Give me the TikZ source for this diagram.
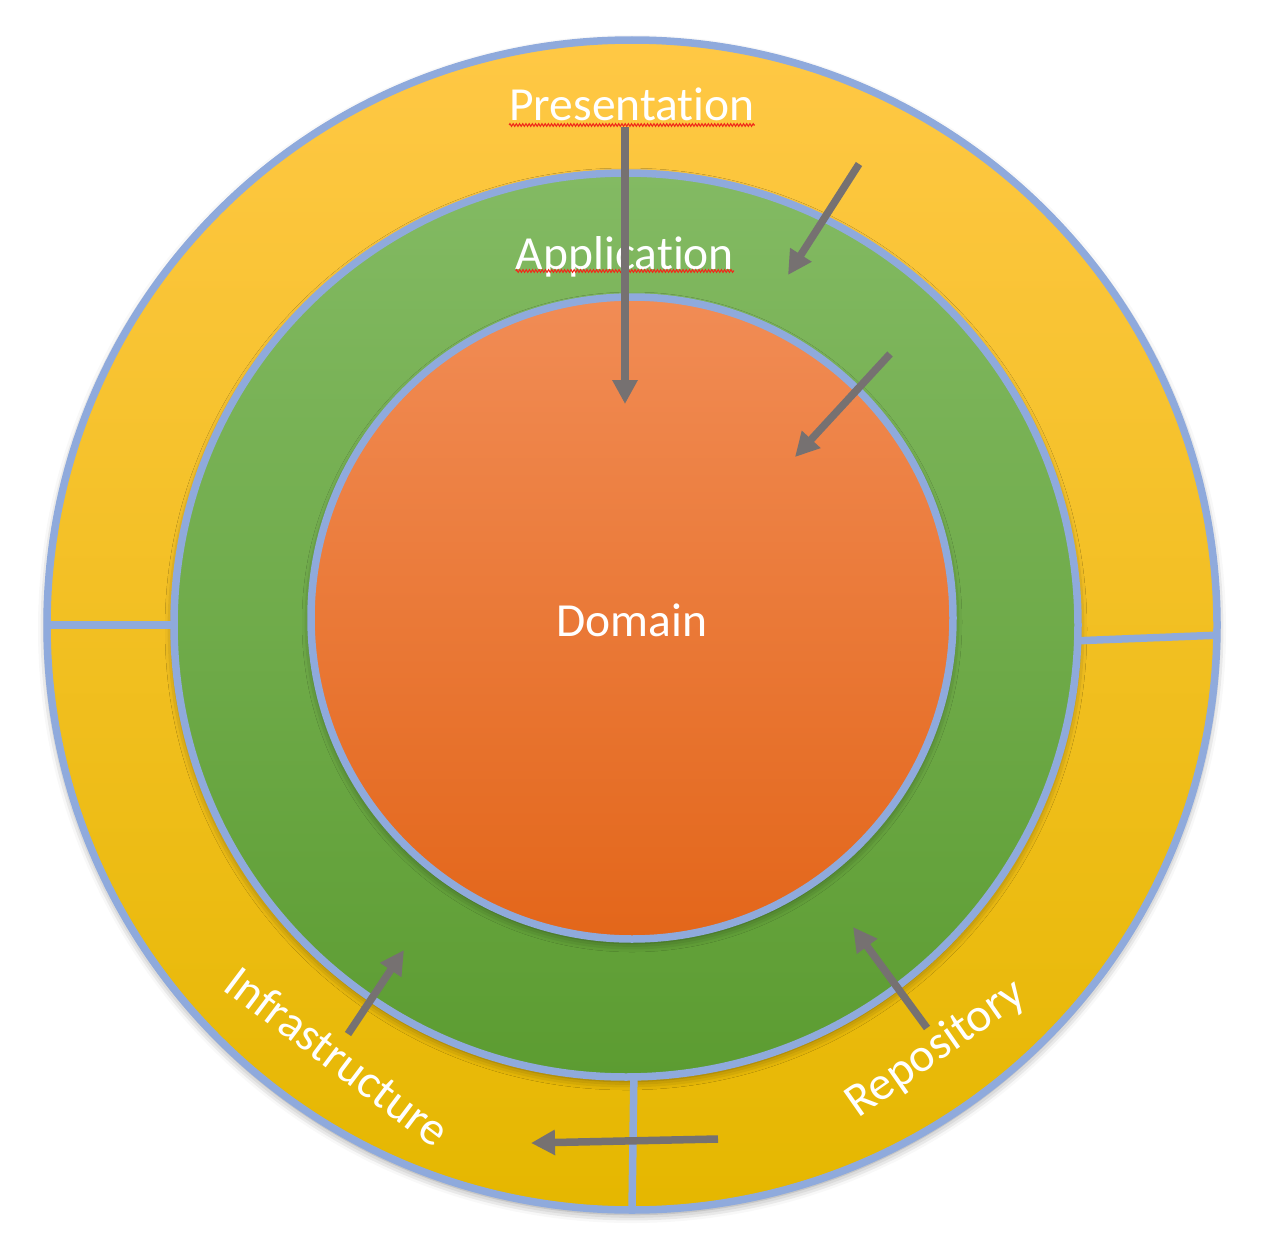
\documentclass[tikz,border=0pt]{standalone}
\usepackage{fontspec}
\setmainfont{Carlito}[Ligatures={NoCommon}]
\usetikzlibrary{arrows.meta,shadows.blur,decorations.pathmorphing}

\definecolor{ringline}{HTML}{8FAADC}
\definecolor{arrowgray}{HTML}{767171}
\definecolor{goldtop}{HTML}{FFC845}
\definecolor{goldmid}{HTML}{FFC600}
\definecolor{goldbot}{HTML}{E5B700}
\definecolor{greentop}{HTML}{83BA63}
\definecolor{greenmid}{HTML}{70AD47}
\definecolor{greenbot}{HTML}{5C9C31}
\definecolor{orangetop}{HTML}{F18C55}
\definecolor{orangemid}{HTML}{F47B28}
\definecolor{orangebot}{HTML}{E3661A}
\definecolor{squiggle}{HTML}{F02A1A}

\begin{document}
\begin{tikzpicture}[x=1pt,y=-1pt,
  ring/.style={circle, inner sep=0pt, outer sep=0pt, draw=ringline, line width=7.5pt,
    blur shadow={shadow xshift=0pt, shadow yshift=-4pt, shadow blur radius=9pt, shadow opacity=45}},
  divider/.style={draw=ringline, line width=7.5pt},
  arr/.style={draw=arrowgray, line width=7.5pt, -{Triangle[length=24pt,width=24pt]}},
  label/.style={text=white, inner sep=0pt, anchor=base, font=\fontsize{47.5}{57}\selectfont},
  spell/.style={draw=squiggle, line width=1.1pt, decorate,
    decoration={zigzag, amplitude=1.3pt, segment length=3.2pt}}]

\useasboundingbox (0,0) rectangle (1270,1255);

% the three layers
\node[ring, minimum size=1170pt, top color=goldtop, middle color=goldmid, bottom color=goldbot] (outer) at (632,625) {};
\node[ring, minimum size=904pt, top color=greentop, middle color=greenmid, bottom color=greenbot] (mid) at (626,625) {};
\node[ring, minimum size=642pt, top color=orangetop, middle color=orangemid, bottom color=orangebot] (core) at (632,618) {};

% segment borders in the outer ring
\draw[divider] (outer.180) -- (mid.180);
\draw[divider] (mid.-2.1) -- (outer.-1.6);
\draw[divider] (mid.-89.4) -- (outer.-90.1);

% layer names
\node[label] (tpres) at (632,121) {Presentation};
\node[label] (tapp) at (625,269) {Application};
\node[label] (tdom) at (632,636) {Domain};
\node[label, rotate=-37] (tinf) at (328,1069) {Infrastructure};
\node[label, rotate=35] (trep) at (943,1059) {Repository};

% spelling marks
\draw[spell] (tpres.south west |- 0,125) -- (tpres.south east |- 0,125);
\draw[spell] (tapp.south west |- 0,271) -- (tapp.south east |- 0,271);

% dependency arrows
\coordinate (a1s) at (625,127);
\coordinate (a1e) at (625,404);
\coordinate (a2s) at (859,164);
\coordinate (a2e) at (788,275);
\coordinate (a3s) at (890,354);
\coordinate (a3e) at (795,457);
\coordinate (a4s) at (348,1034);
\coordinate (a4e) at (404,950);
\coordinate (a5s) at (927,1028);
\coordinate (a5e) at (853,927);
\coordinate (a6s) at (718,1139);
\coordinate (a6e) at (531,1143);
\draw[arr] (a1s) -- (a1e);
\draw[arr] (a2s) -- (a2e);
\draw[arr] (a3s) -- (a3e);
\draw[arr] (a4s) -- (a4e);
\draw[arr] (a5s) -- (a5e);
\draw[arr] (a6s) -- (a6e);
\end{tikzpicture}
\end{document}
